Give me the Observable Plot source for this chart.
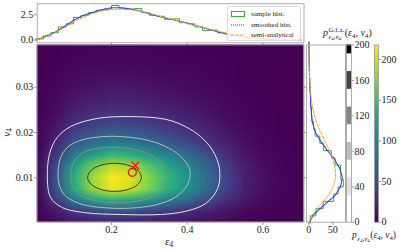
<!DOCTYPE html>
<html><head><meta charset="utf-8">
<script src="https://cdn.jsdelivr.net/npm/d3@7"></script>
<script src="https://cdn.jsdelivr.net/npm/@observablehq/plot@0.6"></script>
<style>
body{margin:0;background:#fff;}
#fig{position:relative;width:411px;height:251px;overflow:hidden;background:#fff;font-family:"Liberation Serif",serif;}
#fig svg{position:absolute;overflow:visible;background:transparent;}
.lbl{position:absolute;font-family:"Liberation Serif",serif;color:#222;white-space:nowrap;line-height:1;}
.lbl sub{font-size:0.7em;vertical-align:-0.3em;line-height:0;font-style:normal;}
.ss{display:inline-flex;flex-direction:column;font-size:7px;line-height:1.05;margin-left:0.5px;margin-right:0.5px;}
.legend{position:absolute;left:227px;top:6px;width:72px;height:33px;border:1px solid #ddd;border-radius:2px;background:rgba(255,255,255,0.85);font-family:"Liberation Serif",serif;font-size:7px;color:#222;}
.legend .row{position:absolute;left:3px;height:8px;display:flex;align-items:center;}
.legend svg{position:static !important;margin-right:6px;}
</style></head><body><div id="fig"></div>
<script>
// ---------- data ----------
const epsGrid = [0,0.05,0.10,0.15,0.20,0.25,0.30,0.35,0.40,0.45,0.50,0.55,0.60,0.65,0.70];
const vGrid = [0,0.0025,0.005,0.0075,0.01,0.0125,0.015,0.0175,0.02,0.0225,0.025,0.0275,0.03,0.0325,0.035,0.0375,0.04];
// joint density p(eps4, v4), rows = vGrid (bottom to top), cols = epsGrid
const density = [
 [0,4.5,12,16.5,19.2,18.3,15.6,12.6,9.9,6.9,3.9,1.8,0.7,0.2,0.1],
 [0,12.8,34,46.8,54.4,51.9,44.2,35.7,28.1,19.6,11.1,5.1,2,0.7,0.2],
 [0,33,88,121,140.8,134.2,114.4,92.4,72.6,50.6,28.6,13.2,5.3,1.8,0.4],
 [0,49.5,132,181.5,211.2,201.3,171.6,138.6,108.9,75.9,42.9,19.8,7.9,2.6,0.7],
 [0,51,136,187,217.6,207.4,176.8,142.8,112.2,78.2,44.2,20.4,8.2,2.7,0.7],
 [0,45.8,122,167.8,195.2,186.1,158.6,128.1,100.7,70.2,39.7,18.3,7.3,2.4,0.6],
 [0,33.8,90,123.8,144,137.3,117,94.5,74.3,51.8,29.3,13.5,5.4,1.8,0.5],
 [0,21.8,58,79.8,92.8,88.5,75.4,60.9,47.9,33.4,18.9,8.7,3.5,1.2,0.3],
 [0,15,40,55,64,61,52,42,33,23,13,6,2.4,0.8,0.2],
 [0,9.8,26,35.8,41.6,39.7,33.8,27.3,21.5,15,8.5,3.9,1.6,0.5,0.1],
 [0,6.8,18,24.8,28.8,27.5,23.4,18.9,14.9,10.4,5.9,2.7,1.1,0.4,0.1],
 [0,4.5,12,16.5,19.2,18.3,15.6,12.6,9.9,6.9,3.9,1.8,0.7,0.2,0.1],
 [0,3,8,11,12.8,12.2,10.4,8.4,6.6,4.6,2.6,1.2,0.5,0.2,0],
 [0,2,5.2,7.2,8.3,7.9,6.8,5.5,4.3,3,1.7,0.8,0.3,0.1,0],
 [0,1.2,3.2,4.4,5.1,4.9,4.2,3.4,2.6,1.8,1,0.5,0.2,0.1,0],
 [0,0.8,2,2.8,3.2,3.1,2.6,2.1,1.7,1.2,0.7,0.3,0.1,0,0],
 [0,0.5,1.2,1.7,1.9,1.8,1.6,1.3,1,0.7,0.4,0.2,0.1,0,0]
];
// G.f.a. contour lines (eps4, v4) per level
const contourLevels = [40, 80, 120, 160];
const contourColors = ["#e6e6e6", "#b8b8b8", "#8a8a8a", "#3a3a3a"];
const contour40 = [[.031,.0116],[.039,.0160],[.057,.0189],[.092,.0213],[.163,.0231],[.250,.0235],[.343,.0229],[.395,.0213],[.435,.0191],[.467,.0160],[.485,.0121],[.480,.0076],[.448,.0043],[.395,.0026],[.329,.0019],[.224,.0019],[.131,.0023],[.071,.0034],[.039,.0057]];
const contour80 = [[.059,.0110],[.066,.0145],[.085,.0168],[.120,.0183],[.180,.0191],[.240,.0190],[.300,.0182],[.350,.0166],[.388,.0143],[.407,.0115],[.400,.0084],[.370,.0058],[.320,.0041],[.250,.0033],[.180,.0034],[.120,.0042],[.080,.0059],[.063,.0082]];
const contour120 = [[.092,.0105],[.099,.0132],[.118,.0152],[.150,.0163],[.200,.0167],[.250,.0164],[.295,.0153],[.330,.0133],[.347,.0107],[.340,.0080],[.312,.0060],[.265,.0048],[.210,.0045],[.160,.0049],[.120,.0060],[.098,.0080]];
const contour160 = [[.279,.0101],[.269,.0117],[.243,.0128],[.208,.0132],[.173,.0128],[.147,.0117],[.137,.0101],[.147,.0085],[.173,.0074],[.208,.0070],[.243,.0074],[.269,.0085]];
const markerCircle = [{eps: 0.255, v: 0.0112}];
const markerCross = [{eps: 0.263, v: 0.0127}];

// top marginal p(eps4)
const epsCurve = [0,0.025,0.05,0.075,0.10,0.125,0.15,0.175,0.20,0.225,0.25,0.275,0.30,0.325,0.35,0.375,0.40,0.425,0.45,0.475,0.50,0.525,0.55,0.575,0.60,0.625,0.65,0.675,0.70];
const epsSmoothed = [0,0.33,0.75,1.3,1.95,2.42,2.74,3.02,3.2,3.2,3.08,2.88,2.6,2.35,2.12,1.9,1.67,1.4,1.14,0.87,0.64,0.46,0.3,0.19,0.12,0.07,0.04,0.02,0.01];
const epsSemi = [0,0.28,0.7,1.2,1.78,2.25,2.62,2.88,3.02,3.05,3.0,2.86,2.64,2.4,2.15,1.9,1.65,1.4,1.15,0.92,0.71,0.53,0.38,0.26,0.17,0.11,0.07,0.04,0.02];
const epsBinEdges = [0,0.02,0.04,0.06,0.08,0.10,0.12,0.14,0.16,0.18,0.20,0.22,0.24,0.26,0.28,0.30,0.32,0.34,0.36,0.38,0.40,0.42,0.44,0.46,0.48,0.50,0.52,0.54,0.56,0.58,0.60,0.62,0.64,0.66,0.68,0.70];
const epsHist = [0.1,0.4,0.72,1.3,1.6,2.25,2.45,2.72,2.95,3.05,3.42,3.15,3.05,3.12,2.7,2.45,2.35,2.05,2.1,1.72,1.6,1.3,0.95,0.98,0.7,0.58,0.4,0.32,0.18,0.15,0.08,0.07,0.03,0.02,0.01];

// right marginal p(v4)
const vCurve = [0,0.002,0.004,0.006,0.008,0.010,0.012,0.014,0.016,0.018,0.020,0.022,0.024,0.026,0.028,0.030,0.032,0.034,0.036,0.038,0.040];
const vSmoothed = [0,11,32,54,66,70,65,54,39,25,14,8,5.5,4.2,3.3,2.5,1.7,1.1,0.7,0.4,0.2];
const vSemi = [0,8,24,40,51,56,55,50,43,34,25,17,11,7,4.5,2.8,1.7,1,0.6,0.3,0.1];
const vBinEdges = [0,0.0016,0.0032,0.0048,0.0064,0.008,0.0096,0.0112,0.0128,0.0144,0.016,0.0176,0.0192,0.0208,0.0224,0.024,0.0256,0.0272,0.0288,0.0304,0.032,0.0336,0.0352,0.0368,0.0384,0.04];
const vHist = [3,15,30,52,61,72,67,66,55,47,31,23,13,10,6,5.5,3.5,3.5,2.5,2,1.5,1,0.8,0.4,0.3];

// colorbars
const gfaTicks = [0,40,80,120,160,200];
const gfaBands = [{level:40,color:"#e3e3e3"},{level:80,color:"#bdbdbd"},{level:120,color:"#858585"},{level:160,color:"#434343"},{level:200,color:"#000000"}];
const densTicks = [0,50,100,150,200];

// ---------- styles ----------
const GREEN = "#3aaa3a", BLUE = "#3030ff", ORANGE = "#ffa726", SPINE = "#999";
const baseStyle = {fontFamily: "Liberation Serif, serif", fontSize: "10px", color: "#222", background: "transparent"};
const epsDomain = [0.004, 0.708], vDomain = [0.0002, 0.0393];
const fig = document.getElementById("fig");
function place(el, left, top){ el.style.left = left + "px"; el.style.top = top + "px"; fig.appendChild(el); }

// ---------- top marginal ----------
const epsStep = epsBinEdges.map((e, i) => ({x: e, y: epsHist[Math.min(i, epsHist.length - 1)]}));
const topPlot = Plot.plot({
  width: 310, height: 46, marginLeft: 36.7, marginRight: 6.5, marginTop: 3.3, marginBottom: 3.7,
  x: {domain: epsDomain}, y: {domain: [-0.28, 3.59]}, style: baseStyle,
  marks: [
    Plot.line(epsStep, {x: "x", y: "y", curve: "step-after", stroke: GREEN, strokeWidth: 1}),
    Plot.line(epsCurve, {x: d => d, y: (d, i) => epsSmoothed[i], stroke: BLUE, strokeWidth: 1.1, strokeDasharray: "1,1"}),
    Plot.line(epsCurve, {x: d => d, y: (d, i) => epsSemi[i], stroke: ORANGE, strokeWidth: 1, strokeDasharray: "3,1.5"}),
    Plot.frame({stroke: SPINE, strokeWidth: 0.8}),
    Plot.axisY({ticks: [0, 2.5], tickFormat: d3.format(".1f"), tickSize: 3, tickPadding: 1, label: null, stroke: SPINE}),
    Plot.axisX({ticks: [0.2, 0.4, 0.6], tickFormat: () => "", tickSize: 3, label: null, stroke: SPINE})
  ]
});
place(topPlot, 0, 0);

// ---------- main heatmap ----------
const dE = epsGrid[1] - epsGrid[0], dV = vGrid[1] - vGrid[0];
const contourSets = [contour40, contour80, contour120, contour160];
const mainPlot = Plot.plot({
  width: 310, height: 211, marginLeft: 36.7, marginRight: 6.5, marginTop: 4.5, marginBottom: 29.3,
  x: {domain: epsDomain}, y: {domain: vDomain},
  color: {type: "linear", scheme: "viridis", domain: [0, 218], clamp: true},
  style: baseStyle,
  marks: [
    Plot.raster(density.flat(), {
      width: epsGrid.length, height: vGrid.length,
      x1: epsGrid[0] - dE / 2, x2: epsGrid[epsGrid.length - 1] + dE / 2,
      y1: vGrid[0] - dV / 2, y2: vGrid[vGrid.length - 1] + dV / 2,
      fill: d => d, clip: true
    }),
    ...contourSets.map((pts, k) => Plot.line(pts, {x: d => d[0], y: d => d[1], curve: "catmull-rom-closed", stroke: contourColors[k], strokeWidth: 1})),
    Plot.dot(markerCircle, {x: "eps", y: "v", r: 4, stroke: "#f00", strokeWidth: 1.2, fill: "none"}),
    Plot.dot(markerCross, {x: "eps", y: "v", r: 3.6, symbol: "times", stroke: "#f00", strokeWidth: 1.2}),
    Plot.frame({stroke: SPINE, strokeWidth: 0.8}),
    Plot.axisX({ticks: [0.2, 0.4, 0.6], tickFormat: d3.format(".1f"), tickSize: 3, tickPadding: 1, label: null, stroke: SPINE}),
    Plot.axisY({ticks: [0.01, 0.02, 0.03], tickFormat: d3.format(".2f"), tickSize: 3, tickPadding: 1, label: null, stroke: SPINE})
  ]
});
place(mainPlot, 0, 40);

// ---------- right marginal ----------
const vStep = vBinEdges.map((e, i) => ({v: e, p: vHist[Math.min(i, vHist.length - 1)]}));
const rightPlot = Plot.plot({
  width: 50, height: 211, marginLeft: 6, marginRight: 5, marginTop: 4.5, marginBottom: 29.3,
  x: {domain: [-4.8, 76.5]}, y: {domain: vDomain}, style: baseStyle,
  marks: [
    Plot.line(vStep, {x: "p", y: "v", curve: "step-before", stroke: GREEN, strokeWidth: 1}),
    Plot.line(vCurve, {y: d => d, x: (d, i) => vSmoothed[i], stroke: BLUE, strokeWidth: 1.1, strokeDasharray: "1,1"}),
    Plot.line(vCurve, {y: d => d, x: (d, i) => vSemi[i], stroke: ORANGE, strokeWidth: 1, strokeDasharray: "3,1.5"}),
    Plot.frame({stroke: SPINE, strokeWidth: 0.8}),
    Plot.axisX({ticks: [0, 50], tickFormat: d3.format("d"), tickSize: 3, tickPadding: 1, label: null, stroke: SPINE}),
    Plot.axisY({ticks: [0.01, 0.02, 0.03], tickFormat: () => "", tickSize: 3, label: null, stroke: SPINE})
  ]
});
place(rightPlot, 300, 40);

// ---------- G.f.a. colorbar ----------
const gfaPlot = Plot.plot({
  width: 30, height: 211, marginLeft: 6, marginRight: 19, marginTop: 4.5, marginBottom: 29.3,
  x: {domain: [0, 1]}, y: {domain: [0, 200]}, style: baseStyle,
  marks: [
    ...gfaBands.map(b => Plot.rect([b], {x1: 0, x2: 1, y1: d => Math.max(0, d.level - 10), y2: d => Math.min(200, d.level + 10), fill: b.color})),
    Plot.frame({stroke: SPINE, strokeWidth: 0.8}),
    Plot.axisY({anchor: "right", ticks: gfaTicks, tickFormat: d3.format("d"), tickSize: 2, tickPadding: 1, label: null, stroke: SPINE}),
    Plot.axisX({ticks: [], label: null})
  ]
});
place(gfaPlot, 340, 40);

// ---------- density colorbar ----------
const densPlot = Plot.plot({
  width: 43, height: 211, marginLeft: 6, marginRight: 33, marginTop: 4.5, marginBottom: 29.3,
  x: {domain: [0, 1]}, y: {domain: [0, 218]},
  color: {type: "linear", scheme: "viridis", domain: [0, 218]},
  style: baseStyle,
  marks: [
    Plot.raster({fill: (x, y) => y, x1: 0, x2: 1, y1: 0, y2: 218, pixelSize: 1}),
    Plot.frame({stroke: SPINE, strokeWidth: 0.8}),
    Plot.axisY({anchor: "right", ticks: densTicks, tickFormat: d3.format("d"), tickSize: 2, tickPadding: 1, label: null, stroke: SPINE}),
    Plot.axisX({ticks: [], label: null})
  ]
});
place(densPlot, 368, 40);

// ---------- text labels & legend ----------
function addLabel(html, left, top, size, extra){
  const d = document.createElement("div");
  d.className = "lbl"; d.innerHTML = html;
  d.style.left = left + "px"; d.style.top = top + "px"; d.style.fontSize = size + "px";
  if (extra) Object.assign(d.style, extra);
  fig.appendChild(d);
}
addLabel('<i>ε</i><sub>4</sub>', 165, 236, 11);
addLabel('<i>v</i><sub>4</sub>', 2, 127, 11, {transform: "rotate(-90deg)", transformOrigin: "50% 50%"});
addLabel('<i>p</i><span class="ss" style="vertical-align:0.6em"><span>G.f.a.</span><span><i>ε</i><sub>4</sub>,<i>v</i><sub>4</sub></span></span>(<i>ε</i><sub>4</sub>, <i>v</i><sub>4</sub>)', 323, 27, 10);
addLabel('<i>p</i><span class="ss" style="vertical-align:-0.45em"><span><i>ε</i><sub>4</sub>,<i>v</i><sub>4</sub></span></span>(<i>ε</i><sub>4</sub>, <i>v</i><sub>4</sub>)', 352, 231, 9.5);

const legend = document.createElement("div");
legend.className = "legend";
legend.innerHTML =
  '<div class="row" style="top:3px"><svg width="14" height="6"><rect x="0.5" y="0.5" width="13" height="5" fill="none" stroke="' + GREEN + '" stroke-width="1"/></svg>sample hist.</div>' +
  '<div class="row" style="top:13.5px"><svg width="14" height="6"><line x1="0" y1="3" x2="14" y2="3" stroke="' + BLUE + '" stroke-width="1.1" stroke-dasharray="1,1"/></svg>smoothed hist.</div>' +
  '<div class="row" style="top:23.5px"><svg width="14" height="6"><line x1="0" y1="3" x2="14" y2="3" stroke="' + ORANGE + '" stroke-width="1" stroke-dasharray="3,1.5"/></svg>semi-analytical</div>';
fig.appendChild(legend);
</script></body></html>
